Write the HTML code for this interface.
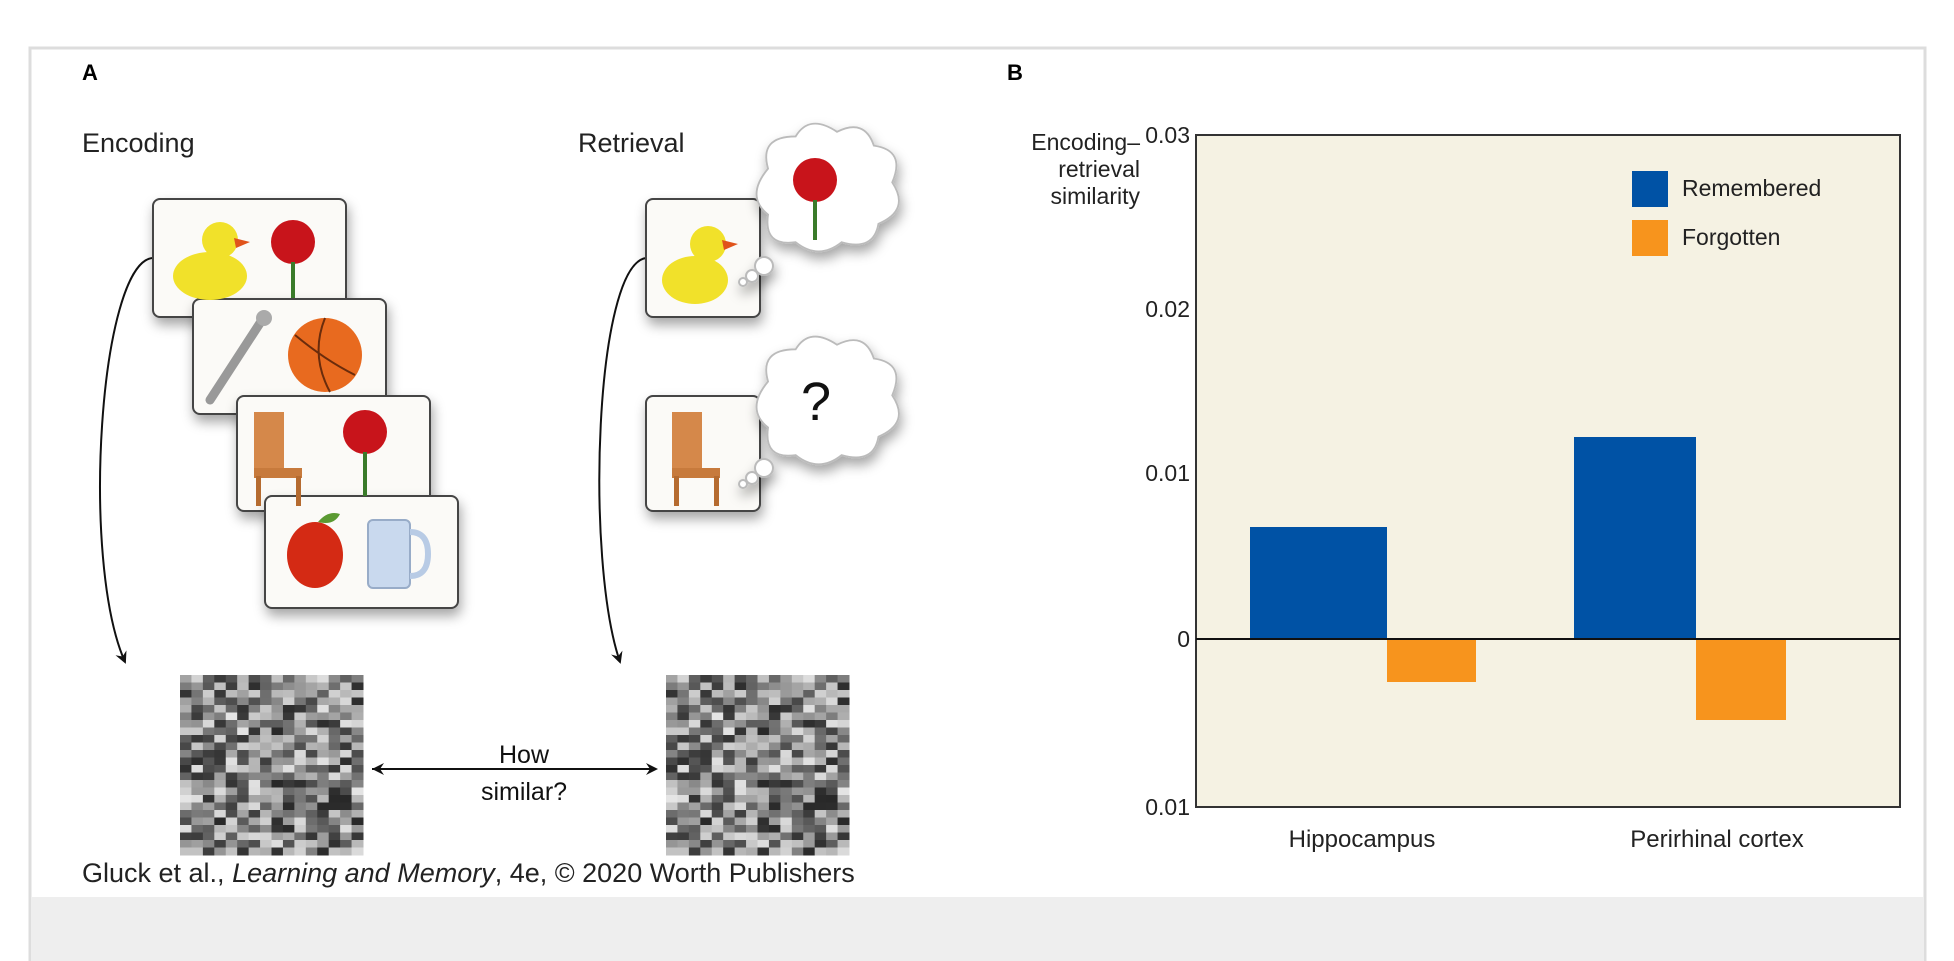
<!DOCTYPE html>
<html><head><meta charset="utf-8"><style>
html,body{margin:0;padding:0;background:#fff;}
body{width:1954px;height:961px;position:relative;overflow:hidden;font-family:"Liberation Sans",sans-serif;}
</style></head><body>
<svg width="1954" height="961" xmlns="http://www.w3.org/2000/svg" style="position:absolute;left:0;top:0">
<defs>
<marker id="ah" markerWidth="12" markerHeight="12" refX="10" refY="6" orient="auto" markerUnits="userSpaceOnUse">
<path d="M0,0 L12,6 L0,12 L4,6 Z" fill="#111"/></marker>
<filter id="sh" x="-10%" y="-10%" width="130%" height="140%"><feDropShadow dx="2" dy="7" stdDeviation="6" flood-color="#000" flood-opacity="0.35"/></filter>
</defs>
<rect x="0" y="0" width="1954" height="961" fill="#fff"/>
<rect x="30" y="48" width="1895" height="913" fill="#fff" stroke="#ddd" stroke-width="3"/>
<rect x="31" y="897" width="1893" height="64" fill="#eeeeee"/>
<text x="82" y="80" font-size="22" font-weight="bold">A</text>
<text x="1007" y="80" font-size="22" font-weight="bold">B</text>
<text x="82" y="152" font-size="27" fill="#222">Encoding</text>
<text x="578" y="152" font-size="27" fill="#222">Retrieval</text>

<path d="M152,258 C100,265 80,560 125,662" fill="none" stroke="#111" stroke-width="2" marker-end="url(#ah)"/>
<path d="M646,258 C595,265 585,560 620,662" fill="none" stroke="#111" stroke-width="2" marker-end="url(#ah)"/>

<g filter="url(#sh)"><rect x="153" y="199" width="193" height="118" rx="7" fill="#fbfaf7" stroke="#444" stroke-width="2"/></g>
<g filter="url(#sh)"><rect x="193" y="299" width="193" height="115" rx="7" fill="#fbfaf7" stroke="#444" stroke-width="2"/></g>
<g filter="url(#sh)"><rect x="237" y="396" width="193" height="115" rx="7" fill="#fbfaf7" stroke="#444" stroke-width="2"/></g>
<g filter="url(#sh)"><rect x="265" y="496" width="193" height="112" rx="7" fill="#fbfaf7" stroke="#444" stroke-width="2"/></g>

<ellipse cx="210" cy="276" rx="37" ry="24" fill="#f1e12a"/><circle cx="220" cy="240" r="18" fill="#f1e12a"/><path d="M234,238 l16,4 l-14,6z" fill="#e0531b"/>
<circle cx="293" cy="242" r="22" fill="#c8141b"/><path d="M293,262 v36" stroke="#3a7b2a" stroke-width="4"/>
<path d="M210,400 L262,320" stroke="#999" stroke-width="9" stroke-linecap="round"/><circle cx="264" cy="318" r="8" fill="#aaa"/>
<circle cx="325" cy="355" r="37" fill="#e86a1f"/><path d="M295,335 Q325,360 355,375 M325,318 Q310,355 330,392" stroke="#6a2c0c" stroke-width="2" fill="none"/>
<rect x="254" y="412" width="30" height="58" fill="#d5884a"/><rect x="254" y="468" width="48" height="10" fill="#c77a3c"/><rect x="256" y="476" width="5" height="30" fill="#b56b30"/><rect x="296" y="476" width="5" height="30" fill="#b56b30"/>
<circle cx="365" cy="432" r="22" fill="#c8141b"/><path d="M365,452 v44" stroke="#3a7b2a" stroke-width="4"/>
<ellipse cx="315" cy="555" rx="28" ry="33" fill="#d42a14"/><path d="M318,522 q10,-12 22,-8 q-6,12 -22,8z" fill="#5b9a32"/>
<rect x="368" y="520" width="42" height="68" rx="5" fill="#c9d9ee" stroke="#98acc8" stroke-width="2"/><path d="M410,532 q18,0 18,22 q0,22 -18,22" fill="none" stroke="#b8cbe5" stroke-width="6"/>

<g filter="url(#sh)">
<rect x="646" y="199" width="114" height="118" rx="7" fill="#fbfaf7" stroke="#444" stroke-width="2"/>
<rect x="646" y="396" width="114" height="115" rx="7" fill="#fbfaf7" stroke="#444" stroke-width="2"/>
</g>
<ellipse cx="695" cy="280" rx="33" ry="24" fill="#f1e12a"/><circle cx="708" cy="244" r="18" fill="#f1e12a"/><path d="M722,240 l16,4 l-14,6z" fill="#e0531b"/>
<rect x="672" y="412" width="30" height="58" fill="#d5884a"/><rect x="672" y="468" width="48" height="10" fill="#c77a3c"/><rect x="674" y="476" width="5" height="30" fill="#b56b30"/><rect x="714" y="476" width="5" height="30" fill="#b56b30"/>

<g fill="#fff" stroke="#bbb" stroke-width="2" filter="url(#sh)">
<g transform="translate(826,187) scale(0.92) translate(-853,-170)">
<path d="M790,150 q-10,-35 30,-35 q15,-25 45,-5 q30,-15 40,15 q35,5 20,40 q20,30 -15,45 q-5,30 -40,20 q-25,20 -50,0 q-35,5 -30,-30 q-25,-20 0,-50z"/></g>
<circle cx="764" cy="266" r="9"/><circle cx="752" cy="276" r="6"/><circle cx="743" cy="282" r="4"/>
<g transform="translate(826,399) scale(0.92) translate(-853,-374)">
<path d="M790,355 q-10,-35 30,-35 q15,-25 45,-5 q30,-15 40,15 q35,5 20,40 q20,30 -15,45 q-5,30 -40,20 q-25,20 -50,0 q-35,5 -30,-30 q-25,-20 0,-50z"/></g>
<circle cx="764" cy="468" r="9"/><circle cx="752" cy="478" r="6"/><circle cx="743" cy="484" r="4"/>
</g>
<circle cx="815" cy="180" r="22" fill="#c8141b"/><path d="M815,200 v40" stroke="#3a7b2a" stroke-width="4"/>
<text x="816" y="420" font-size="54" text-anchor="middle" fill="#111">?</text>

<g id="g1"></g>
<line x1="372" y1="769" x2="656" y2="769" stroke="#111" stroke-width="2" marker-end="url(#ah)"/>
<path d="M372,769 l12,-6 l-4,6 l4,6z" fill="#111"/>
<text x="524" y="763" font-size="25" text-anchor="middle" fill="#111">How</text>
<text x="524" y="800" font-size="25" text-anchor="middle" fill="#111">similar?</text>

<text x="82" y="882" font-size="27" fill="#222">Gluck et al., <tspan font-style="italic">Learning and Memory</tspan>, 4e, © 2020 Worth Publishers</text>

<rect x="1196" y="135" width="704" height="672" fill="#f5f2e3" stroke="#333" stroke-width="2"/>
<rect x="1250" y="527" width="137" height="112" fill="#0052a5"/>
<rect x="1387" y="639" width="89" height="43" fill="#f7941d"/>
<rect x="1574" y="437" width="122" height="202" fill="#0052a5"/>
<rect x="1696" y="639" width="90" height="81" fill="#f7941d"/>
<line x1="1196" y1="639" x2="1900" y2="639" stroke="#111" stroke-width="2"/>
<rect x="1632" y="171" width="36" height="36" fill="#0052a5"/>
<rect x="1632" y="220" width="36" height="36" fill="#f7941d"/>
<g font-size="23" fill="#222">
<text x="1682" y="196">Remembered</text>
<text x="1682" y="245">Forgotten</text>
<g text-anchor="end">
<text x="1190" y="143">0.03</text>
<text x="1190" y="317">0.02</text>
<text x="1190" y="481">0.01</text>
<text x="1190" y="647">0</text>
<text x="1190" y="815">0.01</text>
<text x="1140" y="150">Encoding–</text>
<text x="1140" y="177">retrieval</text>
<text x="1140" y="204">similarity</text>
</g>
<g text-anchor="middle" font-size="24">
<text x="1362" y="847">Hippocampus</text>
<text x="1717" y="847">Perirhinal cortex</text>
</g>
</g>
</svg>
<script>
(function(){
var g=document.getElementById('g1');
var seed=7;function r(){seed=(seed*9301+49297)%233280;return seed/233280;}
var ns='http://www.w3.org/2000/svg';
[[180,675],[666,675]].forEach(function(o){seed=11;
var cols=16,rows=24,w=183/cols,h=180/rows;
for(var i=0;i<rows;i++)for(var j=0;j<cols;j++){var v=Math.floor(40+r()*190);
var re=document.createElementNS(ns,'rect');re.setAttribute('x',o[0]+j*w);re.setAttribute('y',o[1]+i*h);re.setAttribute('width',w+0.5);re.setAttribute('height',h+0.5);re.setAttribute('fill','rgb('+v+','+v+','+v+')');g.appendChild(re);}
});
})();
</script>
</body></html>
